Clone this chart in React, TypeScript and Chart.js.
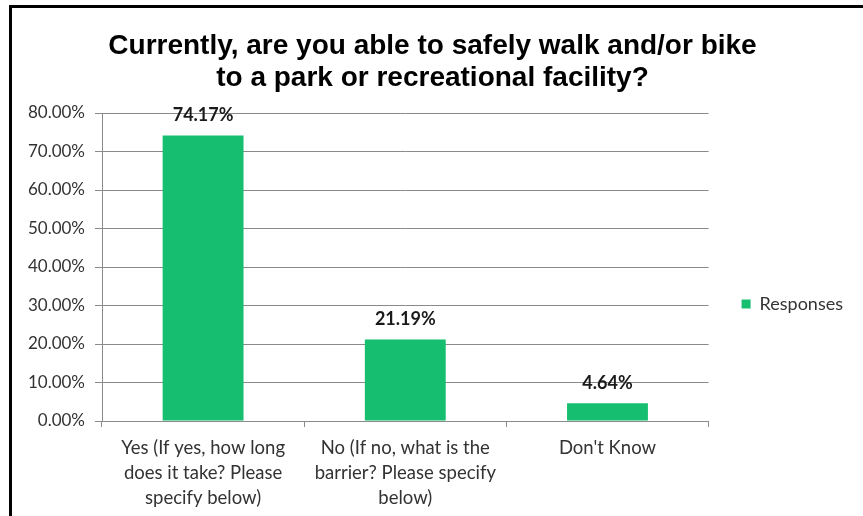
import React, { useEffect, useRef } from "react";
import { Chart, registerables } from "chart.js";

Chart.register(...registerables);

const titleLines = [
  "Currently, are you able to safely walk and/or bike",
  "to a park or recreational facility?",
];
const categories = [
  ["Yes (If yes, how long", "does it take? Please", "specify below)"],
  ["No (If no, what is the", "barrier? Please specify", "below)"],
  ["Don't Know"],
];
const responses = [74.17, 21.19, 4.64];
const seriesName = "Responses";
const yMin = 0;
const yMax = 80;
const yStep = 10;

const BAR = "#16BF70";
const FONT = "Lato, 'Open Sans', sans-serif";

const valueLabelPlugin = {
  id: "valueLabels",
  afterDatasetsDraw(chart: any) {
    const ctx = chart.ctx;
    const meta = chart.getDatasetMeta(0);
    ctx.save();
    ctx.font = "bold 18px " + FONT;
    ctx.fillStyle = "#1a1a1a";
    ctx.textAlign = "center";
    ctx.textBaseline = "middle";
    meta.data.forEach((bar: any, i: number) => {
      ctx.fillText(responses[i].toFixed(2) + "%", bar.x, bar.y - 20);
    });
    ctx.restore();
  },
};

export default function App() {
  const ref = useRef<HTMLCanvasElement | null>(null);
  useEffect(() => {
    if (!ref.current) return;
    const chart = new Chart(ref.current, {
      type: "bar",
      data: {
        labels: categories as any,
        datasets: [
          {
            label: seriesName,
            data: responses,
            backgroundColor: BAR,
            borderWidth: 0,
            barPercentage: 0.4,
            categoryPercentage: 1,
          },
        ],
      },
      options: {
        responsive: false,
        animation: false,
        devicePixelRatio: 1,
        layout: { padding: { top: 0, left: 0, right: 10, bottom: 0 } },
        plugins: {
          title: {
            display: true,
            text: titleLines,
            color: "#000",
            font: {
              family: "'Liberation Sans', Arial, sans-serif",
              size: 28,
              weight: "bold",
              lineHeight: 32 / 28,
            },
            padding: { top: 22, bottom: 19 },
          },
          legend: {
            display: true,
            position: "right",
            align: "center",
            title: {
              display: true,
              text: "",
              font: { size: 12, lineHeight: 1.2 },
              padding: { top: 34.8, bottom: 34.8 },
            },
            labels: {
              boxWidth: 9,
              boxHeight: 9,
              padding: 10,
              color: "#333",
              font: { family: FONT, size: 18 },
            },
          },
          tooltip: { enabled: false },
        },
        scales: {
          x: {
            grid: {
              offset: true,
              drawOnChartArea: false,
              drawTicks: true,
              tickLength: 6,
              color: "#8a8a8a",
            },
            border: { display: true, color: "#8a8a8a" },
            ticks: {
              color: "#333",
              padding: 8.5,
              maxRotation: 0,
              autoSkip: false,
              font: { family: FONT, size: 18.5, lineHeight: 25 / 18.5 },
            },
            afterFit: (s: any) => {
              s.height = 95;
            },
          },
          y: {
            min: yMin,
            max: yMax,
            ticks: {
              stepSize: yStep,
              color: "#333",
              padding: 10,
              font: { family: FONT, size: 17 },
              callback: (v: any) => Number(v).toFixed(2) + "%",
            },
            grid: { color: "#8a8a8a", tickLength: 7, drawTicks: true },
            border: { display: true, color: "#8a8a8a" },
            afterFit: (s: any) => {
              s.width = 90;
            },
          },
          y2: {
            type: "linear",
            position: "right",
            display: true,
            grid: { display: false },
            ticks: { display: false },
            border: { display: false },
            afterFit: (s: any) => {
              s.width = 23;
            },
          },
        },
      },
      plugins: [valueLabelPlugin],
    } as any);
    return () => chart.destroy();
  }, []);

  return (
    <div
      style={{
        position: "fixed",
        left: 0,
        top: 0,
        width: 863,
        height: 516,
        background: "#fff",
        overflow: "hidden",
      }}
    >
      <div style={{ position: "absolute", left: 9, top: 5, width: 854, height: 3, background: "#000" }} />
      <div style={{ position: "absolute", left: 9, top: 5, width: 3, height: 511, background: "#000" }} />
      <canvas
        ref={ref}
        width={851}
        height={508}
        style={{ position: "absolute", left: 12, top: 8, width: 851, height: 508 }}
      />
    </div>
  );
}
